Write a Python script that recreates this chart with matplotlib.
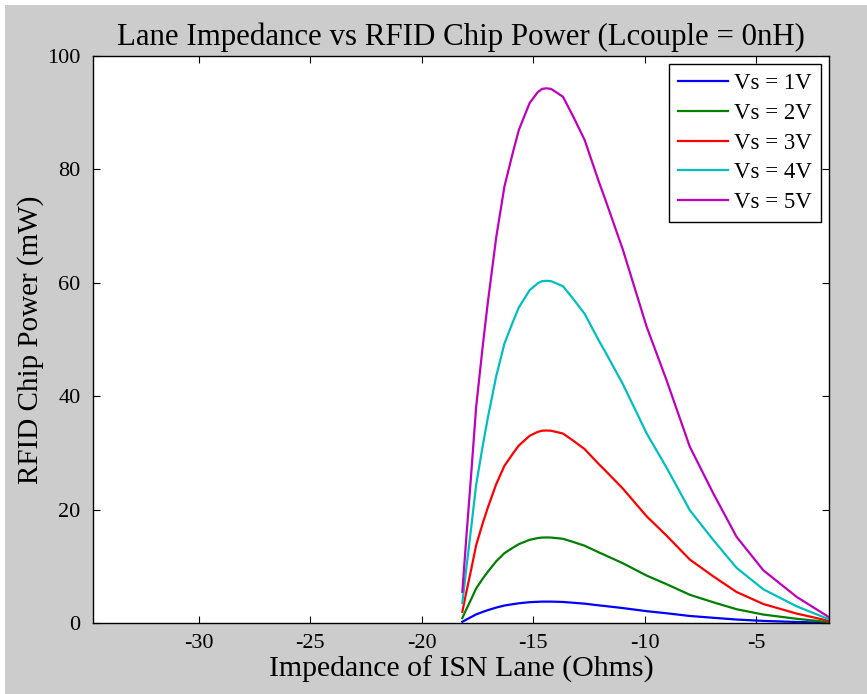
import matplotlib
matplotlib.use('Agg')
import matplotlib.pyplot as plt
from matplotlib.patches import Rectangle


# Impedance of the ISN lane (Ohms).
impedance = [-18.18, -18.01, -17.78, -17.56, -17.26, -17.04, -16.66, -16.29,
             -15.91, -15.64, -15.16, -14.80, -14.60, -14.41, -14.20, -14.00,
             -13.66, -13.20, -12.69, -12.05, -11.79, -10.97, -9.91, -9.02,
             -7.97, -6.92, -5.87, -4.67, -3.17, -1.75]

# Chip power (mW) for each source voltage.
p_1v = [0.22, 0.58, 1.06, 1.52, 1.96, 2.26, 2.72, 3.08, 3.32, 3.48, 3.67,
        3.74, 3.77, 3.77, 3.77, 3.75, 3.71, 3.57, 3.41, 3.11, 3.00, 2.63,
        2.09, 1.72, 1.24, 0.92, 0.61, 0.37, 0.18, 0.04]
p_2v = [0.88, 2.34, 4.22, 6.10, 7.84, 9.02, 10.88, 12.32, 13.28, 13.92,
        14.67, 14.98, 15.07, 15.09, 15.07, 14.99, 14.85, 14.29, 13.63, 12.45,
        12.00, 10.53, 8.37, 6.86, 4.98, 3.66, 2.43, 1.49, 0.74, 0.18]
p_3v = [1.98, 5.26, 9.50, 13.72, 17.64, 20.30, 24.48, 27.72, 29.88, 31.32,
        33.01, 33.70, 33.91, 33.95, 33.91, 33.73, 33.41, 32.15, 30.67, 28.01,
        27.00, 23.69, 18.83, 15.44, 11.20, 8.24, 5.47, 3.35, 1.66, 0.40]
p_4v = [3.52, 9.34, 16.90, 24.38, 31.36, 36.10, 43.52, 49.28, 53.12, 55.68,
        58.69, 59.90, 60.29, 60.35, 60.29, 59.97, 59.39, 57.15, 54.53, 49.79,
        48.00, 42.11, 33.47, 27.46, 19.90, 14.66, 9.73, 5.95, 2.94, 0.70]
p_5v = [5.5, 14.6, 26.4, 38.1, 49.0, 56.4, 68.0, 77.0, 83.0, 87.0, 91.7,
        93.6, 94.2, 94.3, 94.2, 93.7, 92.8, 89.3, 85.2, 77.8, 75.0, 65.8,
        52.3, 42.9, 31.1, 22.9, 15.2, 9.3, 4.6, 1.1]

labels = ['Vs = 1V', 'Vs = 2V', 'Vs = 3V', 'Vs = 4V', 'Vs = 5V']
x_ticks = [-30, -25, -20, -15, -10, -5]
y_ticks = [0, 20, 40, 60, 80, 100]


plt.rcParams['font.family'] = ['Liberation Serif', 'DejaVu Serif']
plt.rcParams['axes.unicode_minus'] = False

fig = plt.figure(figsize=(8.67, 6.94), dpi=100, facecolor='white')
# MATLAB-style grey figure panel (thin white strip top/left in the screenshot).
fig.patches.append(Rectangle((5 / 867, 0), 1, 1 - 5 / 694,
                             transform=fig.transFigure, facecolor='#cccccc',
                             edgecolor='none', zorder=-10))

ax = fig.add_axes([93 / 867, 1 - 623 / 694, (829 - 93) / 867, (623 - 56) / 694])
ax.set_facecolor('white')

series = [p_1v, p_2v, p_3v, p_4v, p_5v]
colors = ['#0000ff', '#008000', '#ff0000', '#00bfbf', '#bf00bf']
for values, color, label in zip(series, colors, labels):
    ax.plot(impedance, values, color=color, linewidth=1.6, label=label)

ax.set_xlim(-34.76, -1.72)
ax.set_ylim(0, 100)
ax.set_xticks(x_ticks)
ax.set_yticks(y_ticks)
ax.tick_params(direction='in', top=True, right=True, length=5, width=0.8,
               labelsize=16)
ax.tick_params(axis='x', pad=8)
ax.tick_params(axis='y', pad=9)
for spine in ax.spines.values():
    spine.set_linewidth(1.0)

ax.set_title('Lane Impedance vs RFID Chip Power (Lcouple = 0nH)',
             fontsize=22.2, pad=8)
ax.set_xlabel('Impedance of ISN Lane (Ohms)', fontsize=21.5, labelpad=2)
ax.set_ylabel('RFID Chip Power (mW)', fontsize=21, labelpad=2)

leg = ax.legend(loc='upper right', fontsize=16.5, fancybox=False,
                edgecolor='black', framealpha=1, borderpad=0.4,
                handlelength=2.2, handletextpad=0.25, labelspacing=0.38,
                borderaxespad=0.35)
leg.get_frame().set_linewidth(1.0)

fig.savefig('out.png', dpi=100, facecolor=fig.get_facecolor())
